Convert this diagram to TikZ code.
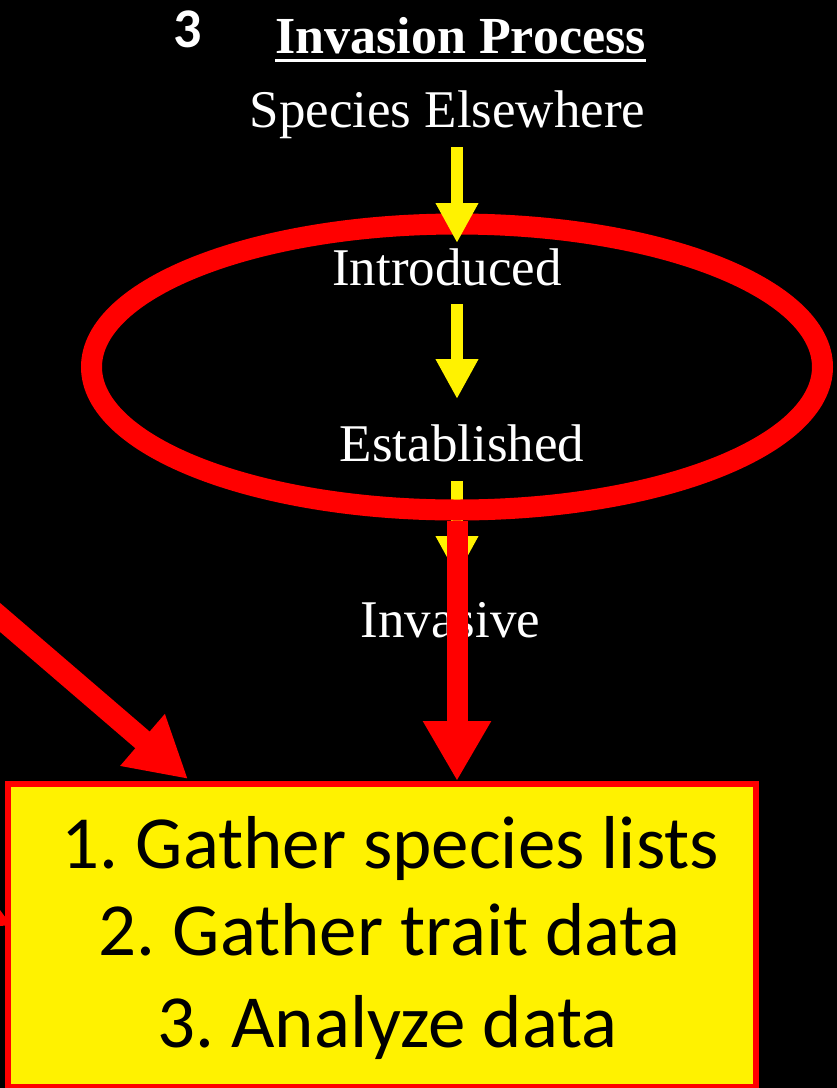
\documentclass[tikz,border=0pt]{standalone}
\usepackage{fontspec}
\setmainfont{Liberation Serif}
\newfontfamily\calibri{Carlito}
\usetikzlibrary{arrows.meta,shapes.geometric}
\frenchspacing
\tikzstyle{stage}=[text=white,inner sep=0pt,anchor=base,font=\fontsize{53}{60}\selectfont]
\tikzstyle{item}=[text=black,inner sep=0pt,anchor=base,font=\calibri\fontsize{75}{88}\selectfont]
\tikzstyle{yarrow}=[yellow,line width=12pt,-{Triangle[length=40pt,width=40pt]}]
\tikzstyle{rarrow}=[red,line width=21pt,-{Triangle[length=60pt,width=64pt]}]

\begin{document}
\begin{tikzpicture}[x=1pt,y=-1pt]
  \fill[black] (0,0) rectangle (837,1088);
  \useasboundingbox (0,0) rectangle (837,1088);
  \clip (0,0) rectangle (837,1088);
  \coordinate (y1a) at (457,147);
  \coordinate (y1b) at (457,243);
  \coordinate (y2a) at (457,304);
  \coordinate (y2b) at (457,399);
  \coordinate (y3a) at (457,481);
  \coordinate (y3b) at (457,576);
  \draw[yarrow] (y3a) -- (y3b);
  \node[ellipse,draw=red,line width=21pt,minimum width=731pt,minimum height=286pt,inner sep=0pt] (ring) at (457,367) {};
  \draw[yarrow] (y1a) -- (y1b);
  \draw[yarrow] (y2a) -- (y2b);
  \node[text=white,inner sep=0pt,anchor=base,font=\calibri\bfseries\fontsize{56}{60}\selectfont] (num) at (187.5,47) {3};
  \node[stage,font=\bfseries\fontsize{52}{60}\selectfont] (title) at (460.5,53) {Invasion Process};
  \draw[white,line width=3pt] ([yshift=-7pt]title.base west) -- ([yshift=-7pt]title.base east);
  \node[stage] (species) at (447.5,127) {Species Elsewhere};
  \node[stage] (intro) at (447,285) {Introduced};
  \node[stage] (estab) at (462,461) {Established};
  \node[stage] (inv) at (450.5,637) {Invasive};
  \node[draw=red,fill=yellow,line width=6pt,minimum width=748pt,minimum height=303pt,inner sep=0pt] (box) at (382,935.5) {};
  \node[item] (l1) at (390.5,868) {1. Gather species lists};
  \node[item] (l2) at (389.5,955) {2. Gather trait data};
  \node[item] (l3) at (387.5,1047) {3. Analyze data};
  \draw[rarrow] (ring.south) -- (ring.south |- box.north);
  \coordinate (from) at (-40,583);
  \coordinate (dtip) at (188,779);
  \draw[rarrow,line width=22pt] (from) -- (dtip);
  \fill[red] (0,910) -- (11,925) -- (0,926) -- cycle;
\end{tikzpicture}
\end{document}
